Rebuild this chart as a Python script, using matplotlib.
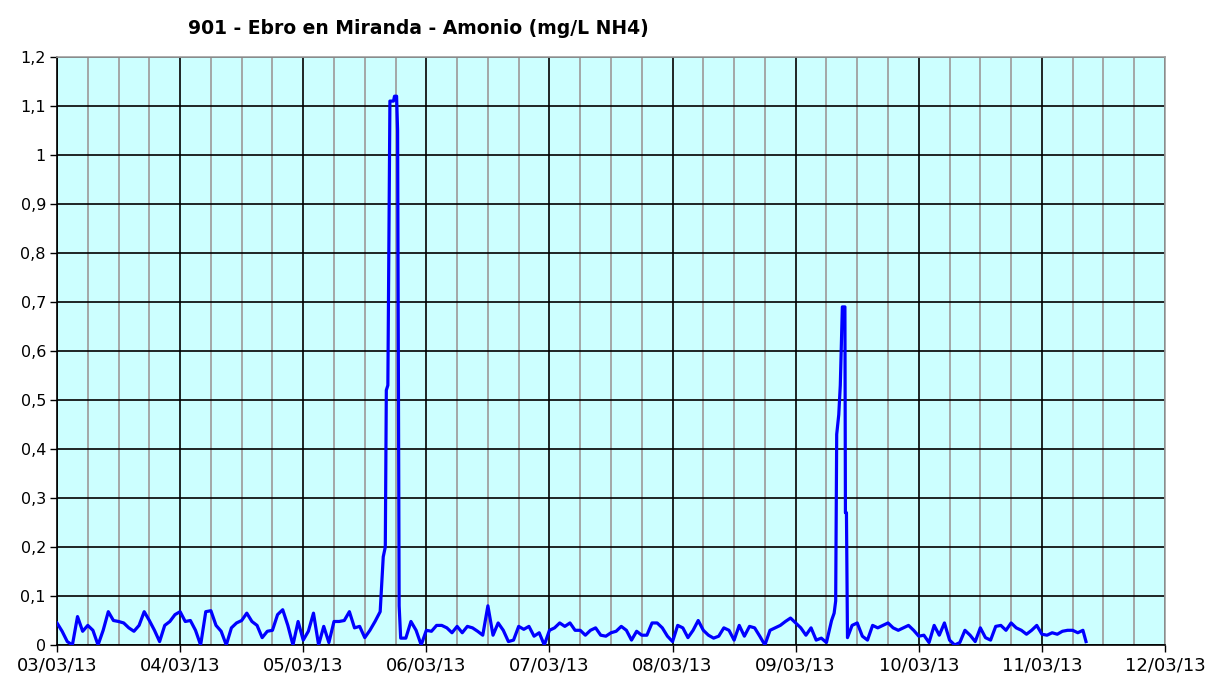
import matplotlib
matplotlib.use("Agg")
import matplotlib.pyplot as plt
import numpy as np

# Time in hours since 03/03/13 00:00, ammonium values in mg/L NH4
hours = (list(range(0, 64)) +
         [63.6, 64.0, 64.2, 64.5, 64.9, 65.6, 65.8, 66.2, 66.4, 66.7] +
         list(range(67, 152)) +
         [151.5, 151.8, 152.0, 152.4, 152.7, 153.1, 153.6, 153.7, 153.9, 154.1] +
         list(range(155, 201)) + [200.6])

values = [
    # 03/03
    0.045, 0.028, 0.007, 0.0, 0.058, 0.028, 0.04, 0.03, 0.0, 0.03, 0.068, 0.05,
    0.048, 0.045, 0.035, 0.028, 0.04, 0.068, 0.05, 0.03, 0.007, 0.04, 0.048, 0.062,
    # 04/03
    0.068, 0.048, 0.05, 0.03, 0.0, 0.068, 0.07, 0.04, 0.028, 0.0, 0.035, 0.045,
    0.05, 0.065, 0.048, 0.04, 0.015, 0.028, 0.03, 0.062, 0.072, 0.04, 0.0, 0.048,
    # 05/03 (to 15h)
    0.01, 0.028, 0.065, 0.0, 0.038, 0.005, 0.048, 0.048, 0.05, 0.068, 0.035, 0.038,
    0.015, 0.03, 0.048, 0.068,
    # spike 1
    0.18, 0.2, 0.52, 0.53, 1.11, 1.11, 1.12, 1.12, 1.05, 0.08,
    # 67..80
    0.014, 0.014, 0.048, 0.03, 0.0, 0.03, 0.028, 0.04, 0.04, 0.035, 0.025, 0.038,
    0.025, 0.038,
    # 81..95
    0.035, 0.028, 0.02, 0.08, 0.02, 0.045, 0.03, 0.007, 0.01, 0.038, 0.032, 0.038,
    0.018, 0.025, 0.0,
    # 07/03 (96..119)
    0.03, 0.035, 0.045, 0.038, 0.045, 0.03, 0.03, 0.02, 0.03, 0.035, 0.02, 0.018,
    0.025, 0.028, 0.038, 0.03, 0.01, 0.028, 0.02, 0.02, 0.045, 0.045, 0.035, 0.018,
    # 08/03 (120..143)
    0.007, 0.04, 0.035, 0.015, 0.03, 0.05, 0.03, 0.02, 0.014, 0.018, 0.035, 0.03,
    0.01, 0.04, 0.018, 0.038, 0.035, 0.018, 0.0, 0.03, 0.035, 0.04, 0.048, 0.055,
    # 09/03 (144..151)
    0.045, 0.035, 0.02, 0.035, 0.01, 0.014, 0.005, 0.05,
    # spike 2
    0.065, 0.09, 0.43, 0.47, 0.53, 0.69, 0.69, 0.27, 0.27, 0.015,
    # 155..167
    0.04, 0.045, 0.018, 0.01, 0.04, 0.035, 0.04, 0.045, 0.035, 0.03, 0.035, 0.04,
    0.03,
    # 10/03 (168..191)
    0.018, 0.02, 0.005, 0.04, 0.02, 0.045, 0.01, 0.0, 0.005, 0.03, 0.02, 0.007,
    0.035, 0.015, 0.01, 0.038, 0.04, 0.03, 0.045, 0.035, 0.03, 0.022, 0.03, 0.04,
    # 11/03
    0.022, 0.02, 0.025, 0.022, 0.028, 0.03, 0.03, 0.025, 0.03, 0.007,
]

day_labels = ["03/03/13", "04/03/13", "05/03/13", "06/03/13", "07/03/13",
              "08/03/13", "09/03/13", "10/03/13", "11/03/13", "12/03/13"]
y_ticks = [0, 0.1, 0.2, 0.3, 0.4, 0.5, 0.6, 0.7, 0.8, 0.9, 1.0, 1.1, 1.2]
title = "901 - Ebro en Miranda - Amonio (mg/L NH4)"

fig = plt.figure(figsize=(12.09, 6.79), dpi=100)
ax = fig.add_axes([57 / 1209, 1 - 645 / 679, (1165 - 57) / 1209, (645 - 57) / 679])
ax.set_facecolor("#CCFFFF")

ax.set_xlim(0, 24 * (len(day_labels) - 1))
ax.set_ylim(0, 1.2)

ax.set_xticks([24 * i for i in range(len(day_labels))])
ax.set_xticklabels(day_labels)
ax.set_xticks(np.arange(0, 24 * (len(day_labels) - 1), 6), minor=True)
ax.set_yticks(y_ticks)
ax.set_yticklabels([("%g" % v).replace(".", ",") for v in y_ticks])

ax.grid(which="minor", axis="x", color="#A0A0A0", linewidth=1.3)
ax.grid(which="major", axis="x", color="black", linewidth=1.2)
ax.grid(which="major", axis="y", color="black", linewidth=1.2)
ax.set_axisbelow(True)

ax.plot(hours, values, color="#0000FF", linewidth=2.3, zorder=3)

ax.tick_params(axis="both", which="major", length=5, width=1,
               color="black", labelcolor="black")
ax.tick_params(axis="x", which="major", labelsize=13, pad=3)
ax.tick_params(axis="y", which="major", labelsize=11.5, pad=3)
ax.tick_params(axis="x", which="minor", length=0)

for s in ["left", "bottom"]:
    ax.spines[s].set_color("black")
    ax.spines[s].set_linewidth(1.2)
for s in ["top", "right"]:
    ax.spines[s].set_color("#A0A0A0")
    ax.spines[s].set_linewidth(1.2)

fig.text(418 / 1209, 1 - 28 / 679, title, ha="center", va="center",
         fontsize=13.5, fontweight="bold", color="black")

fig.savefig("out.png", dpi=100)
